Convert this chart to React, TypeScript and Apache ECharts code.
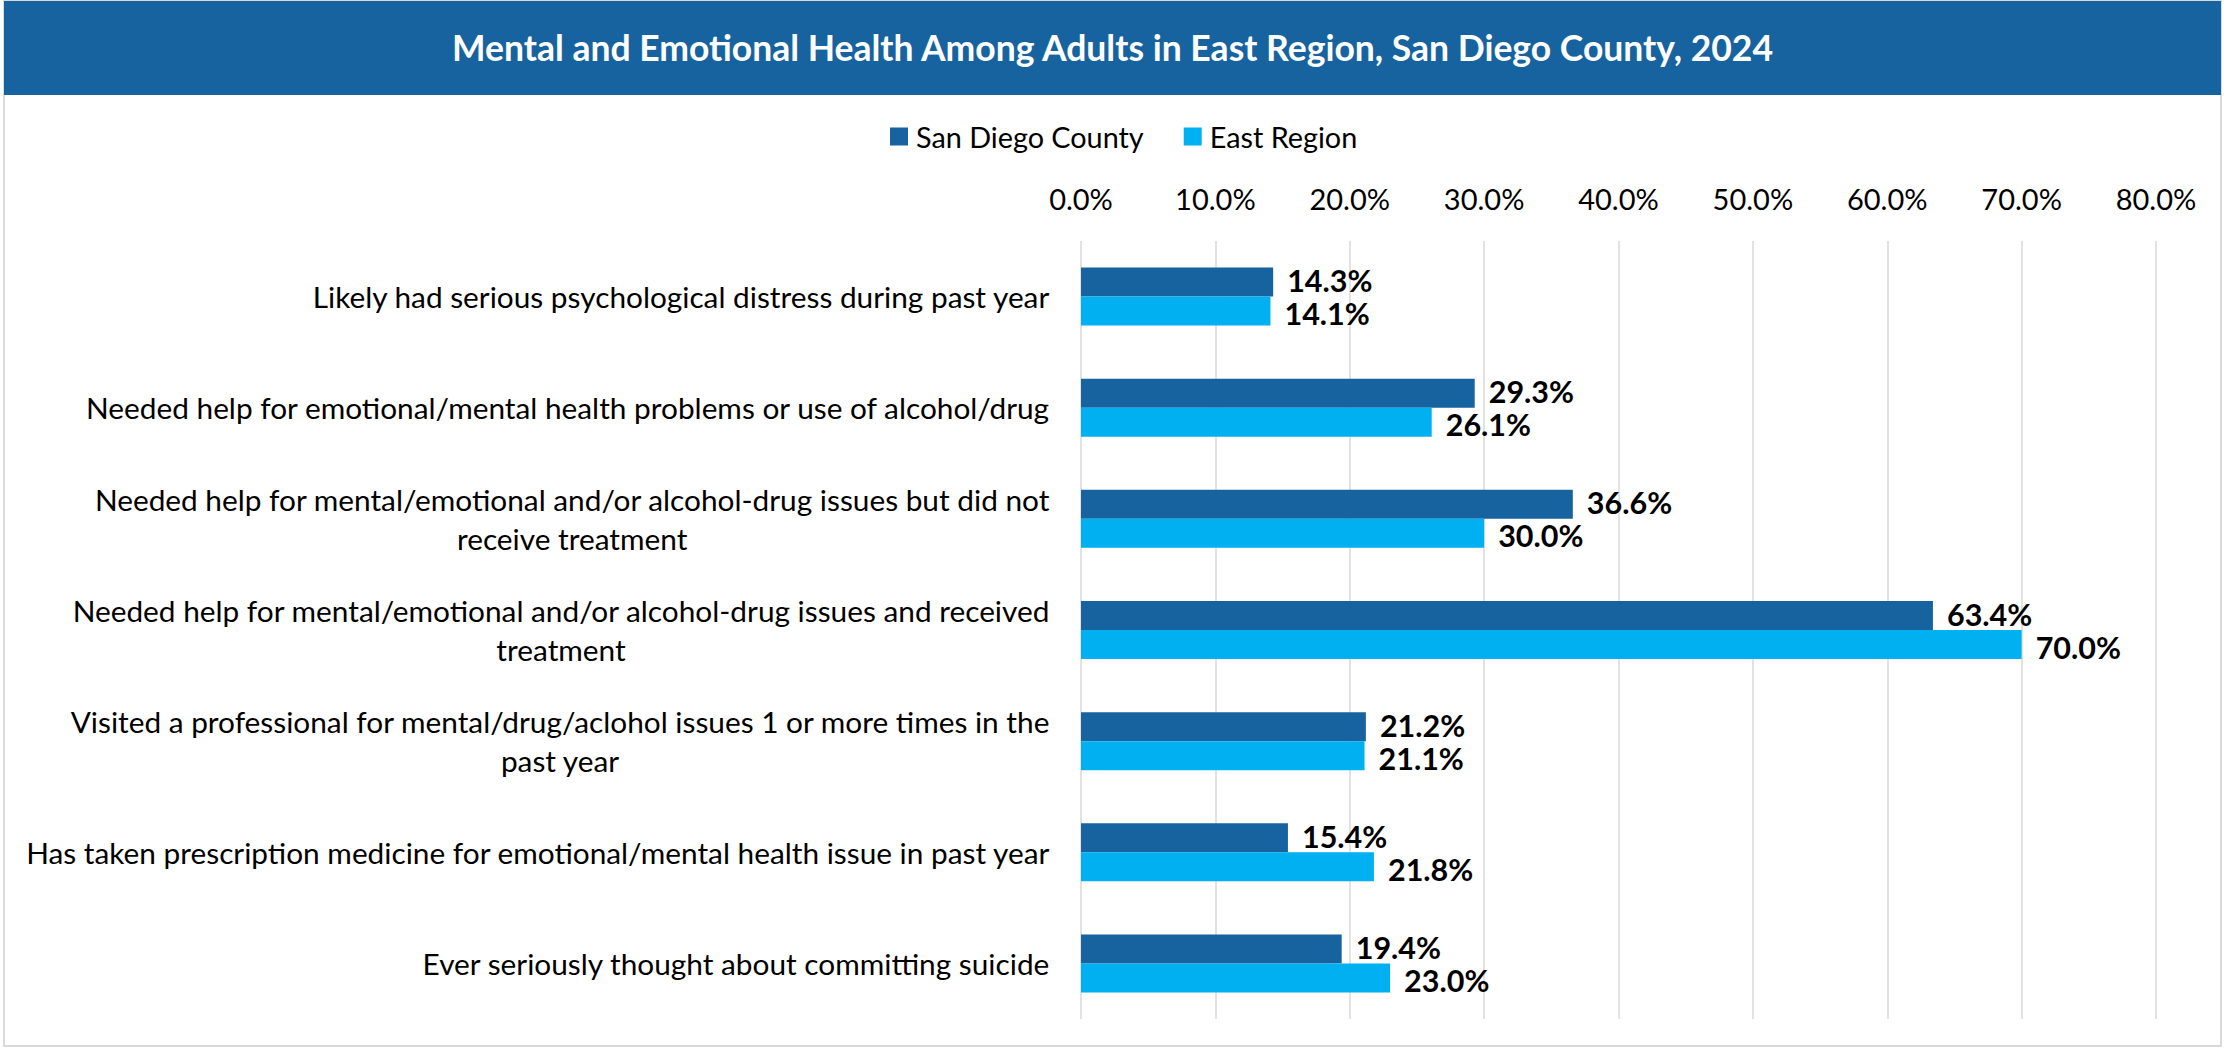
import React, { useEffect, useRef } from "react";
import * as echarts from "echarts";

const TITLE = "Mental and Emotional Health Among Adults in East Region, San Diego County, 2024";
const CATEGORIES = [
  "Likely had serious psychological distress during past year",
  "Needed help for emotional/mental health problems or use of alcohol/drug",
  "Needed help for mental/emotional and/or alcohol-drug issues but did not\nreceive treatment",
  "Needed help for mental/emotional and/or alcohol-drug issues and received\ntreatment",
  "Visited a professional for mental/drug/aclohol issues 1 or more times in the\npast year",
  "Has taken prescription medicine for emotional/mental health issue in past year",
  "Ever seriously thought about committing suicide",
];
const SERIES_NAMES = ["San Diego County", "East Region"];
const SAN_DIEGO = [14.3, 29.3, 36.6, 63.4, 21.2, 15.4, 19.4];
const EAST_REGION = [14.1, 26.1, 30.0, 70.0, 21.1, 21.8, 23.0];
const AXIS_MIN = 0;
const AXIS_MAX = 80;
const AXIS_STEP = 10;

const FONT = "Lato, sans-serif";
const DARK = "#1763a0";
const LIGHT = "#00b0f0";

export default function App() {
  const ref = useRef<HTMLDivElement>(null);
  useEffect(() => {
    if (!ref.current) return;
    const chart = echarts.init(ref.current, undefined, { renderer: "svg" });
    const makeLabel = (dy: number) => ({
      show: true,
      position: "right" as const,
      distance: 14,
      offset: [0, dy],
      fontFamily: FONT,
      fontWeight: "bold" as const,
      fontSize: 30.5,
      lineHeight: 27,
      color: "#000",
      formatter: (p: any) => Number(p.value).toFixed(1) + "%",
    });
    chart.setOption({
      animation: false,
      backgroundColor: "#ffffff",
      textStyle: { fontFamily: FONT },
      graphic: [
        {
          type: "rect",
          shape: { x: 4, y: 1, width: 2217, height: 1045 },
          style: { fill: "#ffffff", stroke: "#d9d9d9", lineWidth: 2 },
          z: -10,
        },
        {
          type: "rect",
          shape: { x: 4, y: 1, width: 2217, height: 94 },
          style: { fill: DARK },
          z: -5,
        },
      ],
      title: {
        text: TITLE,
        left: "center",
        top: 24,
        textStyle: { color: "#ffffff", fontFamily: FONT, fontWeight: "bold", fontSize: 35.5 },
      },
      legend: {
        top: 117,
        left: 885,
        icon: "rect",
        itemWidth: 18,
        itemHeight: 18,
        itemGap: 40,
        textStyle: { fontFamily: FONT, fontSize: 28.8, color: "#000", padding: [0, 0, 0, 3] },
        data: SERIES_NAMES,
      },
      grid: { left: 1081, right: 69, top: 241, bottom: 29, containLabel: false },
      xAxis: {
        type: "value",
        position: "top",
        min: AXIS_MIN,
        max: AXIS_MAX,
        interval: AXIS_STEP,
        axisLine: { show: false },
        axisTick: { show: false },
        splitLine: { show: true, lineStyle: { color: "#d9d9d9", width: 1.5 } },
        axisLabel: {
          margin: 28,
          fontFamily: FONT,
          fontSize: 29,
          color: "#000",
          formatter: (v: number) => v.toFixed(1) + "%",
        },
      },
      yAxis: {
        type: "category",
        inverse: true,
        data: CATEGORIES,
        axisLine: { show: false },
        axisTick: { show: false },
        axisLabel: {
          margin: 31,
          fontFamily: FONT,
          fontSize: 29.8,
          color: "#000",
          lineHeight: 39,
          formatter: (v: string) =>
            v.split("\n").map((l) => "{c|" + l + "}").join("\n"),
          rich: {
            c: { align: "center", fontFamily: FONT, fontSize: 29.8, lineHeight: 39, color: "#000" },
          },
        },
      },
      series: [
        {
          name: SERIES_NAMES[0],
          type: "bar",
          data: SAN_DIEGO,
          barWidth: 29,
          barGap: "0%",
          itemStyle: { color: DARK },
          label: makeLabel(-2),
        },
        {
          name: SERIES_NAMES[1],
          type: "bar",
          data: EAST_REGION,
          barWidth: 29,
          barGap: "0%",
          itemStyle: { color: LIGHT },
          label: makeLabel(2),
        },
      ],
    });
    return () => chart.dispose();
  }, []);
  return (
    <div
      ref={ref}
      style={{ position: "fixed", left: 0, top: 0, width: 2225, height: 1048 }}
    />
  );
}
